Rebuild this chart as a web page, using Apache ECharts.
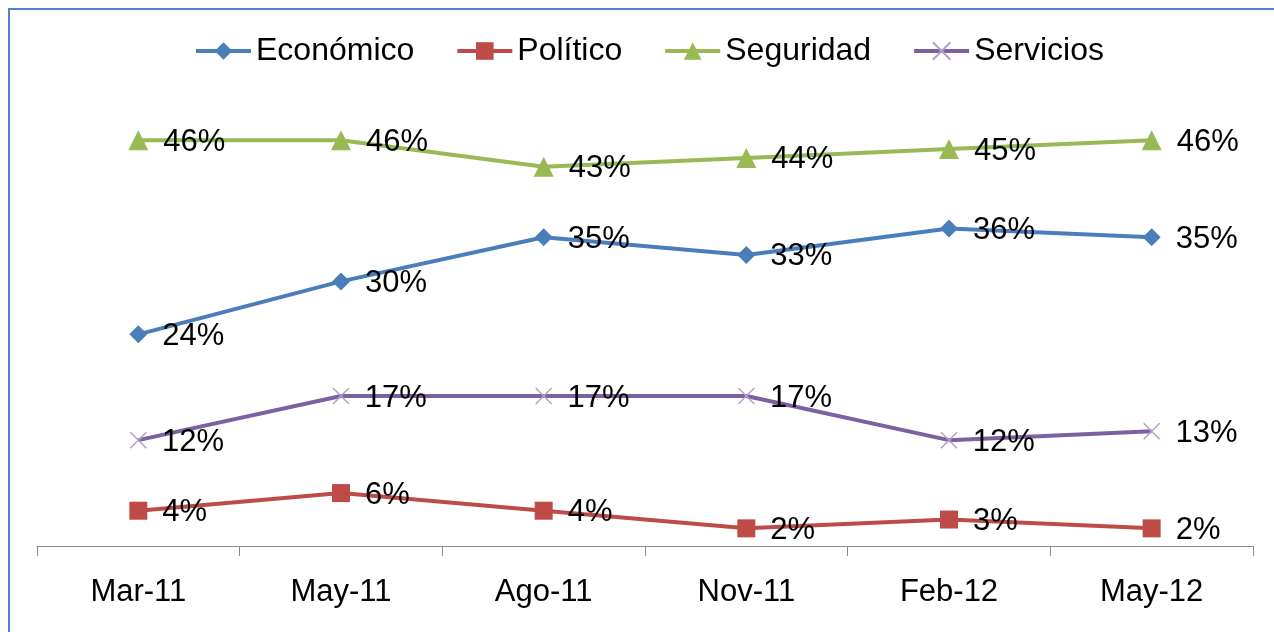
<!DOCTYPE html>
<html>
<head>
<meta charset="utf-8">
<script src="https://cdn.jsdelivr.net/npm/echarts@6/dist/echarts.min.js"></script>
<style>
  body { margin: 0; background: #fff; }
  #main { width: 1274px; height: 632px; }
</style>
</head>
<body>
<div id="main"></div>
<script>
var categories = ['Mar-11', 'May-11', 'Ago-11', 'Nov-11', 'Feb-12', 'May-12'];
var economico = [24, 30, 35, 33, 36, 35];
var politico = [4, 6, 4, 2, 3, 2];
var seguridad = [46, 46, 43, 44, 45, 46];
var servicios = [12, 17, 17, 17, 12, 13];

var font = '"Liberation Sans", Arial, sans-serif';
var crossPath = 'path://M0,0L10,10M10,0L0,10';

function makeSeries(name, data, color, symbol, size, extraItem) {
    return {
        name: name,
        type: 'line',
        data: data,
        symbol: symbol,
        symbolSize: size,
        lineStyle: { color: color, width: 4 },
        itemStyle: Object.assign({ color: color }, extraItem || {}),
        label: {
            show: true,
            position: 'right',
            distance: 15,
            offset: [0, 2],
            formatter: '{c}%',
            color: '#000',
            fontFamily: font,
            fontSize: 31
        },
        emphasis: { disabled: true },
        animation: false
    };
}

var chart = echarts.init(document.getElementById('main'));
var option = {
    backgroundColor: '#fff',
    graphic: [{
        type: 'rect',
        shape: { x: 9, y: 9, width: 1400, height: 800 },
        style: { fill: 'none', stroke: '#5585C8', lineWidth: 2 },
        silent: true
    }],
    legend: {
        top: 30,
        left: 189,
        itemWidth: 55,
        itemHeight: 22,
        itemGap: 41,
        lineStyle: { width: 4 },
        textStyle: { fontFamily: font, fontSize: 32, color: '#000' },
        data: ['Económico', 'Político', 'Seguridad', 'Servicios']
    },
    grid: { left: 37, right: 21, top: 105, bottom: 86, containLabel: false },
    xAxis: {
        type: 'category',
        data: categories,
        boundaryGap: true,
        axisLine: { lineStyle: { color: '#8C8C8C', width: 1 } },
        axisTick: { show: true, length: 10, lineStyle: { color: '#8C8C8C' } },
        axisLabel: { fontFamily: font, fontSize: 31, color: '#000', margin: 31 }
    },
    yAxis: {
        type: 'value',
        min: 0,
        max: 50,
        show: false
    },
    series: [
        makeSeries('Económico', economico, '#4A7EBB', 'diamond', 18),
        makeSeries('Político', politico, '#BE4B48', 'rect', 18),
        makeSeries('Seguridad', seguridad, '#98B954', 'triangle', 20),
        makeSeries('Servicios', servicios, '#7D60A0', crossPath, 16,
            { borderColor: '#B3A2C7', borderWidth: 1.5 })
    ]
};
chart.setOption(option);
</script>
</body>
</html>
